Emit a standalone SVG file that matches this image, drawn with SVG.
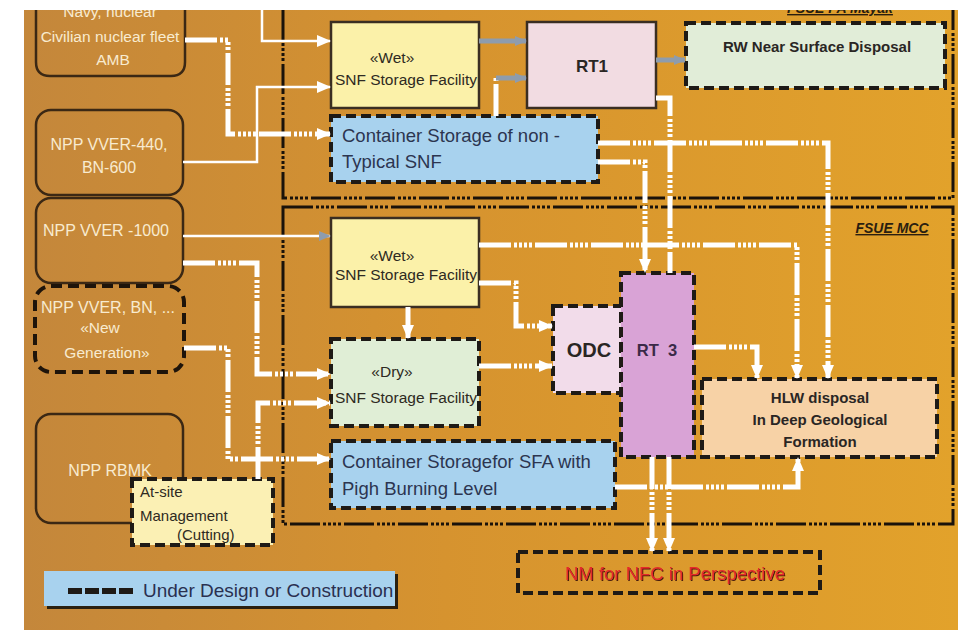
<svg xmlns="http://www.w3.org/2000/svg" width="958" height="630" viewBox="0 0 958 630">
<defs>
<linearGradient id="bg" x1="0" y1="0" x2="1" y2="0">
<stop offset="0" stop-color="#C4873B"/><stop offset="0.45" stop-color="#D6932F"/><stop offset="1" stop-color="#E2A22B"/>
</linearGradient>
<marker id="aw" viewBox="0 0 14 12" refX="13" refY="6" markerWidth="14" markerHeight="12" markerUnits="userSpaceOnUse" orient="auto"><path d="M0,0 L14,6 L0,12 z" fill="#fff"/></marker>
<marker id="ag" viewBox="0 0 12 12" refX="11" refY="6" markerWidth="12" markerHeight="12" markerUnits="userSpaceOnUse" orient="auto"><path d="M0,1 L12,6 L0,11 z" fill="#8E9CAD"/></marker>
<clipPath id="clipTop"><rect x="0" y="10" width="958" height="30"/></clipPath>
<filter id="sh" x="-5%" y="-20%" width="110%" height="140%"><feDropShadow dx="1" dy="1" stdDeviation="0.3" flood-color="#4A1A0A"/></filter>
</defs>
<style>
.src{fill:none;stroke:#3B2814;stroke-width:2.5}
.srcd{fill:none;stroke:#1E140A;stroke-width:4;stroke-dasharray:11 6}
.box{stroke:#3A2E22;stroke-width:2.5}
.dbox{stroke:#1E1A16;stroke-width:4;stroke-dasharray:10 5}
.bnd{fill:none;stroke:#1A120A;stroke-width:3;stroke-dasharray:30 3 3 2 3 2 3 2 3 3}
.thin{fill:none;stroke:#fff;stroke-width:2.5}
.dd{fill:none;stroke:#fff;stroke-width:5;stroke-dasharray:32 3 3 2 3 2 3 2 3 3}
.gr{fill:none;stroke:#8E9CAD;stroke-width:5}
.lt{font-family:"Liberation Sans",Arial,sans-serif;fill:#F8EBD0;font-size:15.5px;text-anchor:middle}
.lt16{font-size:16px}
.t{font-family:"Liberation Sans",Arial,sans-serif;fill:#2E2A22;font-size:15.5px;text-anchor:middle}
.tl{font-family:"Liberation Sans",Arial,sans-serif;fill:#2E2A22;font-size:15px}
.tb{font-family:"Liberation Sans",Arial,sans-serif;fill:#2A2624;font-size:15px;font-weight:bold;text-anchor:middle}
.tc{font-family:"Liberation Sans",Arial,sans-serif;fill:#2C3550;font-size:18.5px}
.ttl{font-family:"Liberation Sans",Arial,sans-serif;fill:#2A1E10;font-size:14px;font-weight:bold;font-style:italic;text-decoration:underline;text-anchor:middle}
</style>
<rect x="0" y="0" width="958" height="630" fill="#fff"/>
<rect x="24" y="10" width="934" height="620" fill="url(#bg)"/>

<g id="boundaries">
<path class="bnd" d="M283,10 V198 H953 V10"/>
<text class="ttl" x="840" y="13" clip-path="url(#clipTop)">FSUE PA Mayak</text>
<rect class="bnd" x="283" y="207" width="670" height="317"/>
<text class="ttl" x="892" y="233">FSUE MCC</text>
</g>

<g id="navy">
<path class="src" d="M36,10 V62 Q36,76 50,76 H171 Q185,76 185,62 V10"/>
<g clip-path="url(#clipTop)"><text class="lt" x="110" y="17">Navy, nuclear</text></g>
<text class="lt" x="110" y="42">Civilian nuclear fleet</text>
<text class="lt" x="113" y="65">AMB</text>
</g>
<g id="npp440">
<rect class="src" x="36" y="110" width="147" height="85" rx="15"/>
<text class="lt" x="109" y="150" style="font-size:16px">NPP  VVER-440,</text>
<text class="lt" x="109" y="173" style="font-size:16px">BN-600</text>
</g>
<g id="npp1000">
<rect class="src" x="36" y="198" width="147" height="85" rx="15"/>
<text class="lt" x="106" y="236" style="font-size:16px">NPP VVER -1000</text>
</g>
<g id="nppnew">
<rect class="srcd" x="35" y="286" width="149" height="86" rx="16"/>
<text class="lt" x="108" y="313" style="font-size:16px">NPP  VVER, BN, ...</text>
<text class="lt" x="100" y="333">«New</text>
<text class="lt" x="107" y="358">Generation»</text>
</g>
<g id="rbmk">
<rect class="src" x="36" y="414" width="147" height="109" rx="15"/>
<text class="lt" x="110" y="476" style="font-size:16px">NPP RBMK</text>
</g>
<g id="atsite">
<rect class="dbox" x="132" y="479" width="141" height="66" fill="#FBF0B4"/>
<text class="tl" x="140" y="497">At-site</text>
<text class="tl" x="140" y="521">Management</text>
<text class="tl" x="177" y="540">(Cutting)</text>
</g>

<g id="wet1">
<rect class="box" x="331" y="22" width="148" height="86" fill="#FBF1A9"/>
<text class="t" x="392" y="63">«Wet»</text>
<text class="t" x="406" y="85">SNF Storage Facility</text>
</g>
<g id="rt1">
<rect class="box" x="527" y="22" width="129" height="86" fill="#F2DCE2"/>
<text class="tb" x="592" y="72" style="font-size:17px">RT1</text>
</g>
<g id="rwnsd">
<rect class="dbox" x="686" y="23" width="259" height="65" fill="#E1EDD8"/>
<text class="tb" x="817" y="52">RW Near Surface Disposal</text>
</g>
<g id="cont1">
<rect class="dbox" x="331" y="116" width="267" height="66" fill="#A8D2EE"/>
<text class="tc" x="342" y="142">Container Storage of non -</text>
<text class="tc" x="342" y="168">Typical SNF</text>
</g>

<g id="wet2">
<rect class="box" x="331" y="218" width="148" height="89" fill="#FBF1A9"/>
<text class="t" x="392" y="261">«Wet»</text>
<text class="t" x="406" y="280">SNF Storage Facility</text>
</g>
<g id="dry">
<rect class="dbox" x="331" y="339" width="148" height="87" fill="#E0EED6"/>
<text class="t" x="392" y="377">«Dry»</text>
<text class="t" x="406" y="403">SNF Storage Facility</text>
</g>
<g id="cont2">
<rect class="dbox" x="331" y="441" width="284" height="67" fill="#A8D2EE"/>
<text class="tc" x="342" y="468">Container Storagefor SFA with</text>
<text class="tc" x="342" y="495">Pigh Burning Level</text>
</g>
<g id="odc">
<rect class="dbox" x="553" y="306" width="68" height="87" fill="#F2DCEA"/>
<text class="tb" x="589" y="357" style="font-size:20px">ODC</text>
</g>
<g id="rt3">
<rect class="dbox" x="621" y="273" width="73" height="184" fill="#D9A3D6"/>
<text class="tb" x="657" y="356" style="font-size:16.5px;fill:#3A2A48" xml:space="preserve">RT  3</text>
</g>
<g id="hlw">
<rect class="dbox" x="702" y="379" width="235" height="78" fill="#F7D2A6"/>
<text class="tb" x="820" y="403">HLW disposal</text>
<text class="tb" x="820" y="425">In Deep Geological</text>
<text class="tb" x="820" y="447">Formation</text>
</g>
<g id="nm">
<rect class="dbox" x="518" y="552" width="302" height="41" fill="none"/>
<text x="675" y="580" font-family="Liberation Sans, Arial, sans-serif" font-size="18.5" fill="#E42A2A" text-anchor="middle" filter="url(#sh)">NM for NFC in Perspective</text>
</g>

<g id="legend">
<rect x="47" y="574" width="351" height="35" fill="#2A2010"/>
<rect x="44" y="571" width="351" height="35" fill="#A8D2EE"/>
<line x1="68" y1="591" x2="136" y2="591" stroke="#1E1A16" stroke-width="6" stroke-dasharray="14 3"/>
<text x="143" y="597" font-family="Liberation Sans, Arial, sans-serif" font-size="19" fill="#2A3050">Under Design or Construction</text>
</g>

<g id="connectors">
<path class="thin" d="M262,10 V41 H330" marker-end="url(#aw)"/>
<path class="thin" d="M183,162 H257 V87 H330" marker-end="url(#aw)"/>
<path class="dd" d="M185,40 H228 V134 H330" marker-end="url(#aw)"/>
<path class="gr" d="M479,41 H526" marker-end="url(#ag)"/>
<path class="dd" d="M496,116 V78"/>
<path class="gr" d="M496,78 H526" marker-end="url(#ag)"/>
<path class="gr" d="M656,60 H685" marker-end="url(#ag)"/>
<path class="dd" d="M656,98 H670 V273"/>
<path class="dd" d="M598,143 H828 V378" marker-end="url(#aw)"/>
<path class="dd" d="M598,162 H645 V272" marker-end="url(#aw)"/>
<path class="thin" d="M183,236 H330" marker-end="url(#ag)"/>
<path class="dd" d="M183,263 H257 V374 H330" marker-end="url(#aw)"/>
<path class="dd" d="M184,348 H228 V459 H330" marker-end="url(#aw)"/>
<path class="dd" d="M258,479 V403 H330" marker-end="url(#aw)"/>
<path class="dd" d="M479,245 H797 V378" marker-end="url(#aw)"/>
<path class="dd" d="M479,283 H516 V326 H552" marker-end="url(#aw)"/>
<path class="dd" d="M408,307 V338" marker-end="url(#aw)"/>
<path class="dd" d="M479,366 H552" marker-end="url(#aw)"/>
<path class="dd" d="M694,347 H757 V378" marker-end="url(#aw)"/>
<path class="dd" d="M615,487 H798 V458" marker-end="url(#aw)"/>
<path class="dd" d="M652,457 V551" marker-end="url(#aw)"/>
<path class="dd" d="M669,457 V551" marker-end="url(#aw)"/>
</g>
</svg>
